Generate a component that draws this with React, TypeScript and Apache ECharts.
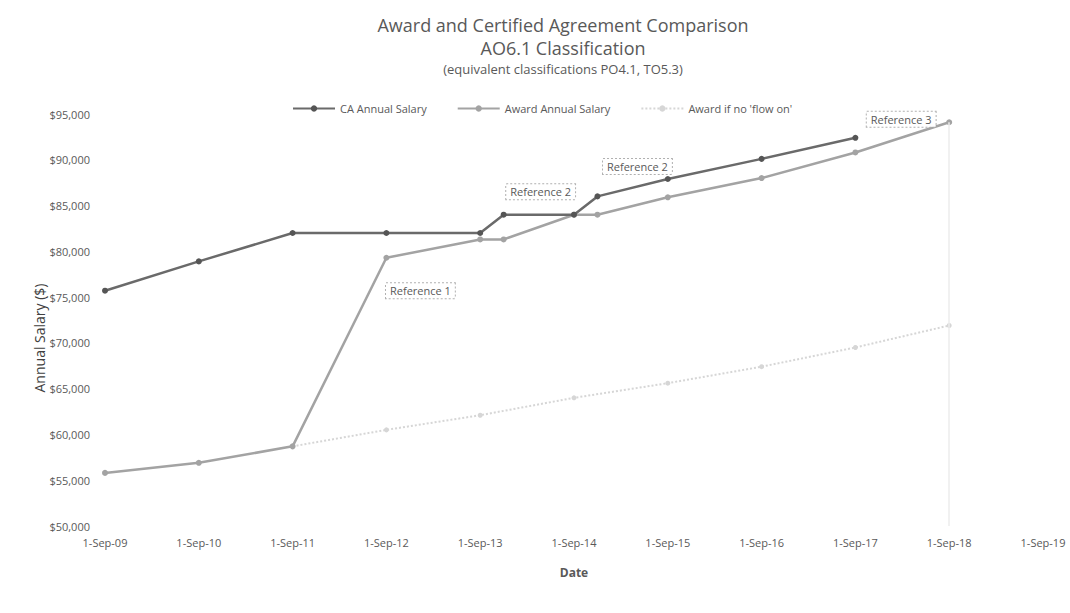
import React, { useEffect, useRef } from "react";
import * as echarts from "echarts";

// ---------- data ----------
const xTickLabels = [
  "1-Sep-09", "1-Sep-10", "1-Sep-11", "1-Sep-12", "1-Sep-13", "1-Sep-14",
  "1-Sep-15", "1-Sep-16", "1-Sep-17", "1-Sep-18", "1-Sep-19",
];

const caDates = [
  "2009-09-01", "2010-09-01", "2011-09-01", "2012-09-01", "2013-09-01",
  "2013-12-01", "2014-09-01", "2014-12-01", "2015-09-01", "2016-09-01", "2017-09-01",
];
const caValues = [75700, 78900, 82000, 82000, 82000, 84000, 84000, 86000, 87900, 90100, 92400];

const awardDates = [
  "2009-09-01", "2010-09-01", "2011-09-01", "2012-09-01", "2013-09-01",
  "2013-12-01", "2014-09-01", "2014-12-01", "2015-09-01", "2016-09-01",
  "2017-09-01", "2018-09-01",
];
const awardValues = [55800, 56900, 58700, 79300, 81300, 81300, 84000, 84000, 85900, 88000, 90800, 94100];

const noFlowDates = [
  "2011-09-01", "2012-09-01", "2013-09-01", "2014-09-01", "2015-09-01",
  "2016-09-01", "2017-09-01", "2018-09-01",
];
const noFlowValues = [58700, 60500, 62100, 64000, 65600, 67400, 69500, 71900];

// callouts attached to data points
const callouts = [
  { series: "award", date: "2012-09-01", text: "Reference 1" },
  { series: "ca", date: "2013-12-01", text: "Reference 2" },
  { series: "ca", date: "2014-12-01", text: "Reference 2" },
  { series: "award", date: "2018-09-01", text: "Reference 3" },
];

// months since 1-Sep-2009
function monthsFromStart(iso: string): number {
  const [y, m, d] = iso.split("-").map(Number);
  return (y - 2009) * 12 + (m - 9) + (d - 1) / 30;
}

const FONT = "'Open Sans', 'Noto Sans', sans-serif";
const TXT = "#595959";

const calloutOffsets: Record<string, number[]> = {
  "award|2012-09-01": [34, 33],
  "ca|2013-12-01": [37, -23],
  "ca|2014-12-01": [40, -30],
  "award|2018-09-01": [-48, -3],
};

function buildData(seriesKey: string, dates: string[], values: number[]) {
  return dates.map((d, i) => {
    const c = callouts.find((k) => k.series === seriesKey && k.date === d);
    const point: any = { value: [monthsFromStart(d), values[i]] };
    if (c) {
      point.label = {
        show: true,
        formatter: c.text,
        position: "inside",
        offset: calloutOffsets[seriesKey + "|" + d],
        color: TXT,
        fontFamily: FONT,
        fontSize: 11,
        backgroundColor: "#ffffff",
        borderColor: "#b0b0b0",
        borderWidth: 1,
        borderType: "dotted",
        padding: [2, 4, 2, 4],
      };
    }
    return point;
  });
}

export default function App() {
  const ref = useRef<HTMLDivElement>(null);

  useEffect(() => {
    if (!ref.current) return;
    const chart = echarts.init(ref.current, undefined, { renderer: "svg" });
    const sep18 = monthsFromStart("2018-09-01");
    const titleStyle = (text: string, size: number) => ({
      text,
      textAlign: "center",
      textVerticalAlign: "middle",
      fontSize: size,
      fontFamily: FONT,
      fill: TXT,
    });
    const option: any = {
      animation: false,
      backgroundColor: "#ffffff",
      textStyle: { fontFamily: FONT },
      graphic: [
        { type: "text", x: 563, y: 25, style: titleStyle("Award and Certified Agreement Comparison", 18) },
        { type: "text", x: 563, y: 48, style: titleStyle("AO6.1 Classification", 18) },
        { type: "text", x: 563, y: 69, style: titleStyle("(equivalent classifications PO4.1, TO5.3)", 13) },
        {
          type: "text",
          x: 39,
          y: 338,
          rotation: Math.PI / 2,
          style: {
            text: "Annual Salary ($)",
            textAlign: "center",
            textVerticalAlign: "middle",
            fontSize: 14,
            fontFamily: FONT,
            fill: "#404040",
          },
        },
      ],
      legend: {
        top: 98,
        left: 287,
        itemWidth: 42,
        itemHeight: 8,
        itemGap: 30,
        textStyle: { color: TXT, fontSize: 11, fontFamily: FONT },
        data: ["CA Annual Salary", "Award Annual Salary", "Award if no 'flow on'"],
      },
      grid: { left: 105, right: 27, top: 114, bottom: 87, containLabel: false },
      xAxis: {
        type: "value",
        min: 0,
        max: 120,
        interval: 12,
        name: "Date",
        nameLocation: "middle",
        nameGap: 40,
        nameTextStyle: { color: TXT, fontSize: 12, fontWeight: "bold", fontFamily: FONT },
        axisLine: { show: false },
        axisTick: { show: false },
        splitLine: { show: false },
        axisLabel: {
          color: TXT,
          fontSize: 11,
          margin: 11,
          fontFamily: FONT,
          formatter: (v: number) => xTickLabels[Math.round(v / 12)] ?? "",
        },
      },
      yAxis: {
        type: "value",
        min: 50000,
        max: 95000,
        interval: 5000,
        axisLine: { show: false },
        axisTick: { show: false },
        splitLine: { show: false },
        axisLabel: {
          color: TXT,
          fontSize: 11,
          margin: 15,
          fontFamily: FONT,
          formatter: (v: number) => "$" + v.toLocaleString("en-US"),
        },
      },
      series: [
        {
          name: "Award if no 'flow on'",
          type: "line",
          data: buildData("noflow", noFlowDates, noFlowValues),
          color: "#d6d6d6",
          lineStyle: { width: 2, type: "dotted", color: "#d6d6d6" },
          symbol: "circle",
          symbolSize: 5,
          itemStyle: { color: "#d6d6d6" },
          z: 1,
        },
        {
          name: "Award Annual Salary",
          type: "line",
          data: buildData("award", awardDates, awardValues),
          color: "#a3a3a3",
          lineStyle: { width: 2.5, color: "#a3a3a3" },
          symbol: "circle",
          symbolSize: 6,
          itemStyle: { color: "#a3a3a3" },
          z: 2,
          markLine: {
            silent: true,
            symbol: "none",
            label: { show: false },
            lineStyle: { color: "#ececec", width: 1.5, type: "solid" },
            data: [[{ coord: [sep18, 50000] }, { coord: [sep18, 94100] }]],
          },
        },
        {
          name: "CA Annual Salary",
          type: "line",
          data: buildData("ca", caDates, caValues),
          color: "#6a6a6a",
          lineStyle: { width: 2.5, color: "#6a6a6a" },
          symbol: "circle",
          symbolSize: 6,
          itemStyle: { color: "#555555" },
          z: 3,
        },
      ],
    };
    chart.setOption(option);
    return () => chart.dispose();
  }, []);

  return (
    <div
      ref={ref}
      style={{ position: "fixed", left: 0, top: 0, width: 1070, height: 613, background: "#fff" }}
    />
  );
}
